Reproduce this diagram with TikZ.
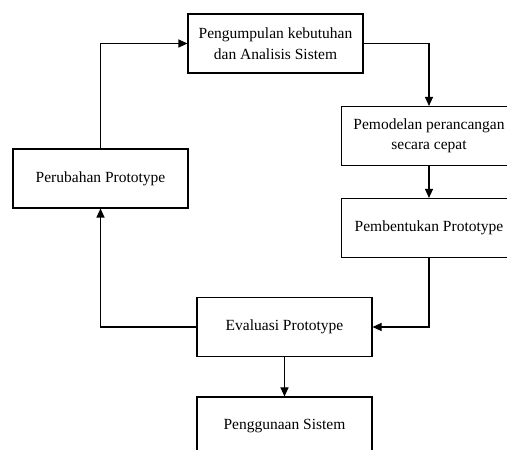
\documentclass[tikz,border=0pt]{standalone}
\usepackage{fontspec}
\setmainfont{Liberation Serif}
\usetikzlibrary{arrows.meta}
\tikzset{
    box/.style={draw, line width=1.1pt, minimum width=175pt, minimum height=59pt, align=center, inner sep=2pt, font=\fontsize{15.5}{20.5}\selectfont},
    flow/.style={line width=1.1pt, -{Triangle[length=9pt,width=8pt]}}
}
\begin{document}
\begin{tikzpicture}[x=1pt,y=1pt]
        \useasboundingbox (0,0) rectangle (507,450);
        \clip (0,0) rectangle (507,450);

        \node[box] (kebutuhan)   at (275.5,406.5) {Pengumpulan kebutuhan\\dan Analisis Sistem};
        \node[box] (pemodelan)   at (429,314)     {Pemodelan perancangan\\secara cepat};
        \node[box] (pembentukan) at (429,222)     {Pembentukan Prototype};
        \node[box] (perubahan)   at (100.5,271.5) {Perubahan Prototype};
        \node[box] (evaluasi)    at (284.5,123)   {Evaluasi Prototype};
        \node[box] (penggunaan)  at (284.5,23.5)  {Penggunaan Sistem};

        \draw[flow] (kebutuhan.east) -| (pemodelan.north);
        \draw[flow] (pemodelan) -- (pembentukan);
        \draw[flow] (pembentukan.south) |- (evaluasi.east);
        \draw[flow] (evaluasi.west) -| (perubahan.south);
        \draw[flow] (perubahan.north) |- (kebutuhan.west);
        \draw[flow] (evaluasi) -- (penggunaan);
    \end{tikzpicture}
\end{document}
